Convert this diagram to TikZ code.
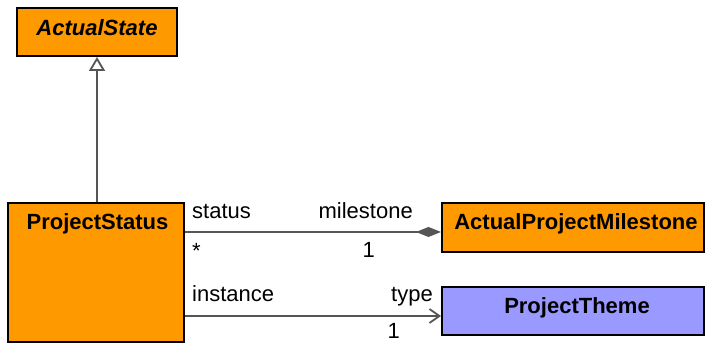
\documentclass[tikz,border=0pt]{standalone}
\usepackage{fontspec}
\setmainfont{Liberation Sans}
\usetikzlibrary{arrows.meta,calc}
\definecolor{umlorange}{HTML}{FF9900}
\definecolor{umlblue}{HTML}{9999FF}
\definecolor{lin}{HTML}{555555}
\tikzset{
  cls/.style={draw=black, line width=2pt, inner sep=0pt, anchor=center},
  lbl/.style={inner sep=0pt, font=\fontsize{22}{26}\selectfont},
  ttl/.style={inner sep=0pt, anchor=base, font=\fontsize{22}{26}\selectfont\bfseries},
  assoc/.style={draw=lin, line width=1.8pt},
}
\begin{document}
\begin{tikzpicture}[x=1pt,y=-1pt]
\useasboundingbox (0,0) rectangle (705,344);
\node[cls, fill=umlorange, minimum width=160pt, minimum height=48pt] (as) at (97,32) {};
\node[ttl, font=\fontsize{22}{26}\selectfont\bfseries\itshape] (ast) at (97,35.5) {ActualState};
\node[cls, fill=umlorange, minimum width=176pt, minimum height=139pt] (ps) at (96,272.5) {};
\node[ttl] (pst) at (97.5,230) {ProjectStatus};
\node[cls, fill=umlorange, minimum width=262pt, minimum height=49pt] (apm) at (573,227.5) {};
\node[ttl] (apmt) at (576,230) {ActualProjectMilestone};
\node[cls, fill=umlblue, minimum width=262pt, minimum height=48pt] (pt) at (573,311) {};
\node[ttl] (ptt) at (577,313.5) {ProjectTheme};
% generalization
\draw[assoc, -{Triangle[open, length=14pt, width=16pt, fill=white]}] (as.south |- ps.north) -- (as.south);
% composition
\coordinate (c1) at ($(apm.west)+(0,4.5)$);
\draw[assoc, {Diamond[length=25pt, width=10pt]}-] (c1) -- (ps.east |- c1);
% directed association
\coordinate (c2) at ($(pt.west)+(0,5)$);
\draw[assoc, -{Straight Barb[length=10pt, width=14pt]}] (ps.east |- c2) -- (c2);
% labels
\node[lbl, anchor=base west] (l1) at (192,218.5) {status};
\node[lbl, anchor=base west] (l2) at (192,259) {*};
\node[lbl, anchor=base east] (l3) at (413,218.5) {milestone};
\node[lbl, anchor=base east] (l4) at (375,258) {1};
\node[lbl, anchor=base west] (l5) at (192,301.5) {instance};
\node[lbl, anchor=base east] (l6) at (433,301.5) {type};
\node[lbl, anchor=base east] (l7) at (400,339) {1};
\end{tikzpicture}
\end{document}
